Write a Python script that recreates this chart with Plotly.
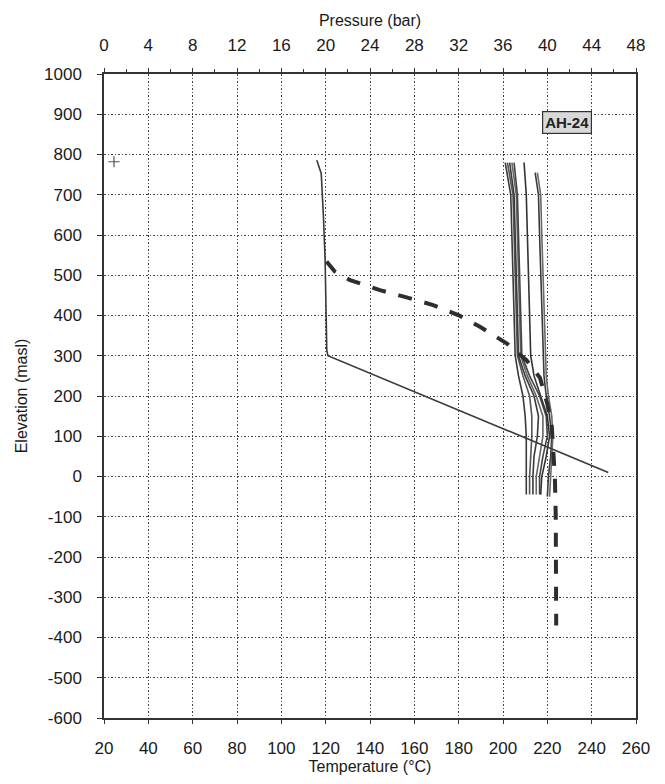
import plotly.graph_objects as go

# ---------------- data ----------------
# Pressure profile (bar) vs elevation (masl)
pres_bar = [19.2, 19.6, 19.8, 19.95, 20.1, 20.2, 45.5]
pres_elev = [786, 753, 645, 538, 314, 300, 10]

# Estimated formation temperature (°C), thick dashed
form_T = [120.4, 124.0, 131.0, 144.5, 156.5, 168.5, 180.6, 189.6, 201.6, 210.6, 216.7, 220.0, 222.0, 223.4, 223.8, 224.0]
form_elev = [534, 510, 488, 463, 445, 426, 399, 372, 331, 289, 245, 180, 124, 0, -100, -370]

# Measured temperature logs (°C)
log_elev_a = [780, 700, 600, 500, 400, 300, 250, 200, 150, 100, 50, 0, -45]
log_elev_b = [755, 700, 600, 500, 400, 300, 250, 200, 150, 100, 50, 0, -50]
log1_T = [201.0, 203.5, 204.0, 204.5, 205.0, 205.5, 207.0, 209.0, 210.0, 210.5, 210.5, 210.5, 210.5]
log2_T = [202.0, 204.5, 205.0, 205.5, 206.0, 206.5, 209.0, 212.0, 213.0, 213.0, 212.5, 212.0, 212.0]
log3_T = [203.0, 205.0, 205.5, 206.0, 206.5, 207.0, 210.0, 214.0, 216.0, 215.5, 214.0, 213.5, 213.5]
log4_T = [204.0, 206.0, 206.5, 207.0, 207.5, 208.0, 211.0, 215.0, 218.0, 218.0, 216.5, 215.0, 215.0]
log5_T = [205.0, 206.5, 207.0, 207.5, 208.0, 208.5, 212.0, 216.5, 219.5, 220.0, 218.0, 216.5, 216.5]
log6_T = [209.5, 210.5, 211.0, 211.5, 212.0, 212.5, 214.0, 217.0, 220.0, 221.0, 219.5, 217.5, 217.0]
log7_T = [214.5, 216.0, 216.5, 217.0, 217.5, 218.0, 218.5, 219.5, 221.0, 222.0, 221.5, 220.5, 220.0]
log8_T = [215.5, 217.0, 217.5, 218.0, 218.5, 219.0, 219.5, 220.5, 222.0, 222.5, 222.0, 221.5, 221.0]

# Wellhead marker
mark_T = [24.5]
mark_elev = [782]

temp_ticks = list(range(20, 261, 20))
pres_ticks = list(range(0, 49, 4))
elev_ticks = list(range(-600, 1001, 100))

well_name = "AH-24"

# ---------------- figure ----------------
FONT = "Liberation Sans, Arial, sans-serif"
INK = "#1a1a1a"
GRID_DASH = "1.5px,2px"

fig = go.Figure()

logs = [
    (log1_T, log_elev_a, "#3a3a3a"),
    (log2_T, log_elev_a, "#555555"),
    (log3_T, log_elev_a, "#3a3a3a"),
    (log4_T, log_elev_a, "#666666"),
    (log5_T, log_elev_a, "#444444"),
    (log6_T, log_elev_a, "#333333"),
    (log7_T, log_elev_b, "#3a3a3a"),
    (log8_T, log_elev_b, "#6a6a6a"),
]
for t, e, c in logs:
    fig.add_trace(go.Scatter(x=t, y=e, mode="lines", line=dict(color=c, width=1.6),
                             showlegend=False, hoverinfo="skip"))

fig.add_trace(go.Scatter(x=form_T, y=form_elev, mode="lines",
                         line=dict(color="#2e2e2e", width=4, dash="14px,13px"),
                         showlegend=False, hoverinfo="skip"))

fig.add_trace(go.Scatter(x=pres_bar, y=pres_elev, mode="lines", xaxis="x2",
                         line=dict(color="#3a3a3a", width=1.6),
                         showlegend=False, hoverinfo="skip"))

fig.add_trace(go.Scatter(x=mark_T, y=mark_elev, mode="markers",
                         marker=dict(symbol="cross-thin", size=8, line=dict(color="#555", width=1.2)),
                         showlegend=False, hoverinfo="skip"))

fig.update_layout(
    width=665, height=784,
    margin=dict(l=104, r=29, t=74, b=66),
    paper_bgcolor="white", plot_bgcolor="white",
    font=dict(family=FONT, size=17, color=INK),
    xaxis=dict(
        range=[20, 260], tickvals=temp_ticks, ticktext=[str(v) for v in temp_ticks],
        showgrid=True, gridcolor="#444", griddash=GRID_DASH, gridwidth=1.2,
        showline=True, linecolor="#333", linewidth=1.5, mirror=False,
        ticks="outside", ticklen=4, tickcolor="#333",
        ticklabelstandoff=10,
        zeroline=False,
        title=dict(text="Temperature (°C)", standoff=2, font=dict(size=16)),
        tickfont=dict(size=17),
    ),
    xaxis2=dict(
        range=[0, 48], tickvals=pres_ticks, ticktext=[str(v) for v in pres_ticks],
        overlaying="x", side="top", anchor="y",
        showgrid=False, showline=True, linecolor="#333", linewidth=1.5,
        ticks="outside", ticklen=4, tickcolor="#333",
        minor=dict(dtick=2, ticks="outside", ticklen=3, tickcolor="#333"),
        ticklabelstandoff=10,
        zeroline=False,
        title=dict(text="Pressure (bar)", standoff=6, font=dict(size=16)),
        tickfont=dict(size=17),
    ),
    yaxis=dict(
        range=[-600, 1000], tickvals=elev_ticks, ticktext=[str(v) for v in elev_ticks],
        showgrid=True, gridcolor="#444", griddash=GRID_DASH, gridwidth=1.2,
        showline=True, linecolor="#333", linewidth=1.5, mirror=True,
        ticks="outside", ticklen=5, tickcolor="#333",
        ticklabelstandoff=12,
        zeroline=False,
        title=dict(text="Elevation (masl)", standoff=12, font=dict(size=16)),
        tickfont=dict(size=17),
    ),
    annotations=[
        dict(text="<b>" + well_name + "</b>", xref="paper", yref="paper",
             x=0.917, y=0.9426, showarrow=False,
             font=dict(family=FONT, size=15, color="#222"),
             bgcolor="#d9d9d9", bordercolor="#333", borderwidth=1.2, borderpad=2),
    ],
)

fig.write_html("out.html")
